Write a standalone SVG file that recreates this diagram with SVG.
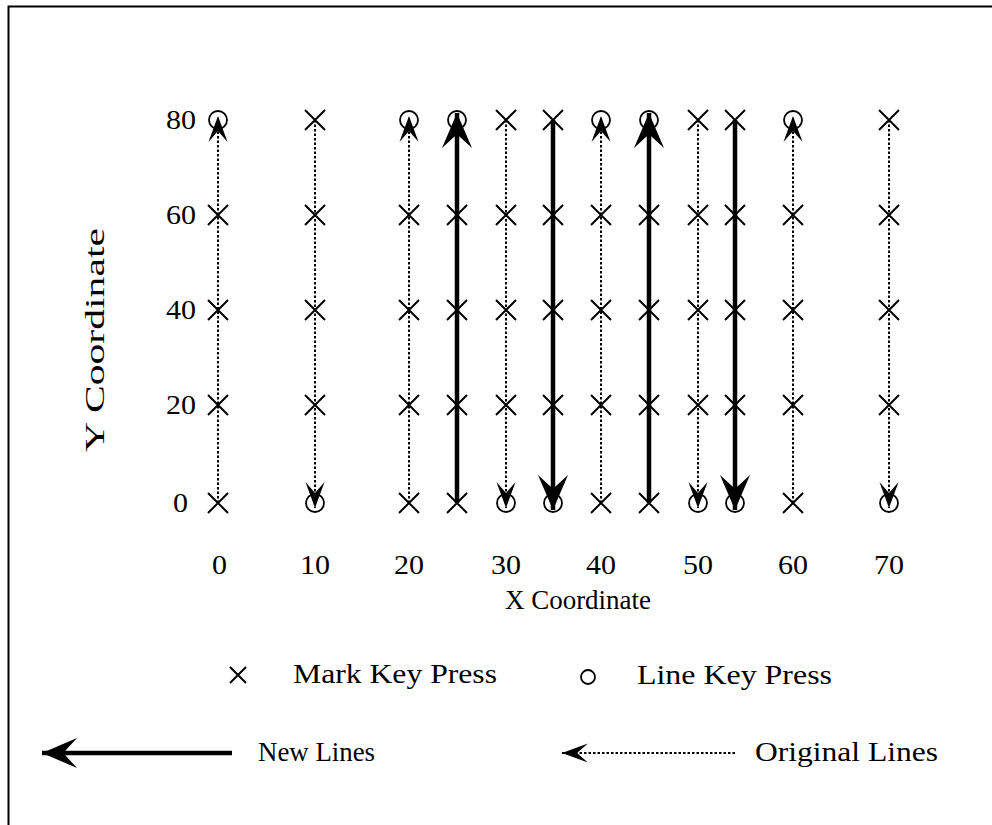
<svg xmlns="http://www.w3.org/2000/svg" width="992" height="825" viewBox="0 0 992 825">
<style>
text{font-family:"Liberation Serif","Times New Roman",serif;font-size:27px;fill:#000}
.xm{stroke:#000;stroke-width:2;fill:none}
.ci{stroke:#000;stroke-width:1.8;fill:none}
.thick{stroke:#000;stroke-width:4.5;fill:none}
.dot{stroke:#000;stroke-width:2;stroke-dasharray:2.5 2;fill:none}
</style>
<defs>
<marker id="ah" markerUnits="userSpaceOnUse" markerWidth="40" markerHeight="40" viewBox="-30 -15 32 30" refX="0" refY="0" orient="auto">
<path d="M0,0 L-28,-12 L-17,0 L-28,12 Z" fill="#000"/>
</marker>
<marker id="ad" markerUnits="userSpaceOnUse" markerWidth="30" markerHeight="30" viewBox="-20 -10 22 20" refX="0" refY="0" orient="auto">
<path d="M0,0 L-19,-7 L-11,0 L-19,7 Z" fill="#000"/>
</marker>
<path id="x" class="xm" d="M-10,-10 L10,10 M-10,10 L10,-10"/>
<circle id="c" class="ci" r="9"/>
</defs>
<rect x="8.5" y="6.5" width="990" height="830" fill="none" stroke="#000" stroke-width="2"/>
<g id="connectors">
<line class="dot" x1="218" y1="503" x2="218" y2="116" marker-end="url(#ad)"/>
<line class="dot" x1="315" y1="120" x2="315" y2="508" marker-end="url(#ad)"/>
<line class="dot" x1="409" y1="503" x2="409" y2="116" marker-end="url(#ad)"/>
<line class="thick" x1="457" y1="503" x2="457" y2="113" marker-end="url(#ah)"/>
<line class="dot" x1="506" y1="120" x2="506" y2="508" marker-end="url(#ad)"/>
<line class="thick" x1="553" y1="120" x2="553" y2="510" marker-end="url(#ah)"/>
<line class="dot" x1="601" y1="503" x2="601" y2="116" marker-end="url(#ad)"/>
<line class="thick" x1="649" y1="503" x2="649" y2="113" marker-end="url(#ah)"/>
<line class="dot" x1="698" y1="120" x2="698" y2="508" marker-end="url(#ad)"/>
<line class="thick" x1="735" y1="120" x2="735" y2="510" marker-end="url(#ah)"/>
<line class="dot" x1="793" y1="503" x2="793" y2="116" marker-end="url(#ad)"/>
<line class="dot" x1="889" y1="120" x2="889" y2="508" marker-end="url(#ad)"/>
<line class="thick" x1="232" y1="753" x2="42" y2="753" marker-end="url(#ah)"/>
<line class="dot" x1="735" y1="753" x2="562" y2="753" marker-end="url(#ad)"/>
</g>
<g id="marks">
<use href="#c" x="218" y="120"/><use href="#x" x="218" y="215"/><use href="#x" x="218" y="310"/><use href="#x" x="218" y="405"/><use href="#x" x="218" y="503"/>
<use href="#x" x="315" y="120"/><use href="#x" x="315" y="215"/><use href="#x" x="315" y="310"/><use href="#x" x="315" y="405"/><use href="#c" x="315" y="503"/>
<use href="#c" x="409" y="120"/><use href="#x" x="409" y="215"/><use href="#x" x="409" y="310"/><use href="#x" x="409" y="405"/><use href="#x" x="409" y="503"/>
<use href="#c" x="457" y="120"/><use href="#x" x="457" y="215"/><use href="#x" x="457" y="310"/><use href="#x" x="457" y="405"/><use href="#x" x="457" y="503"/>
<use href="#x" x="506" y="120"/><use href="#x" x="506" y="215"/><use href="#x" x="506" y="310"/><use href="#x" x="506" y="405"/><use href="#c" x="506" y="503"/>
<use href="#x" x="553" y="120"/><use href="#x" x="553" y="215"/><use href="#x" x="553" y="310"/><use href="#x" x="553" y="405"/><use href="#c" x="553" y="503"/>
<use href="#c" x="601" y="120"/><use href="#x" x="601" y="215"/><use href="#x" x="601" y="310"/><use href="#x" x="601" y="405"/><use href="#x" x="601" y="503"/>
<use href="#c" x="649" y="120"/><use href="#x" x="649" y="215"/><use href="#x" x="649" y="310"/><use href="#x" x="649" y="405"/><use href="#x" x="649" y="503"/>
<use href="#x" x="698" y="120"/><use href="#x" x="698" y="215"/><use href="#x" x="698" y="310"/><use href="#x" x="698" y="405"/><use href="#c" x="698" y="503"/>
<use href="#x" x="735" y="120"/><use href="#x" x="735" y="215"/><use href="#x" x="735" y="310"/><use href="#x" x="735" y="405"/><use href="#c" x="735" y="503"/>
<use href="#c" x="793" y="120"/><use href="#x" x="793" y="215"/><use href="#x" x="793" y="310"/><use href="#x" x="793" y="405"/><use href="#x" x="793" y="503"/>
<use href="#x" x="889" y="120"/><use href="#x" x="889" y="215"/><use href="#x" x="889" y="310"/><use href="#x" x="889" y="405"/><use href="#c" x="889" y="503"/>
</g>
<g id="ylabels">
<text x="166" y="129" textLength="30" lengthAdjust="spacingAndGlyphs">80</text>
<text x="166" y="224" textLength="30" lengthAdjust="spacingAndGlyphs">60</text>
<text x="166" y="319" textLength="30" lengthAdjust="spacingAndGlyphs">40</text>
<text x="166" y="414" textLength="30" lengthAdjust="spacingAndGlyphs">20</text>
<text x="173" y="512" textLength="15" lengthAdjust="spacingAndGlyphs">0</text>
</g>
<g id="xlabels">
<text x="212" y="574" textLength="15" lengthAdjust="spacingAndGlyphs">0</text>
<text x="300" y="574" textLength="30" lengthAdjust="spacingAndGlyphs">10</text>
<text x="394" y="574" textLength="30" lengthAdjust="spacingAndGlyphs">20</text>
<text x="491" y="574" textLength="30" lengthAdjust="spacingAndGlyphs">30</text>
<text x="586" y="574" textLength="30" lengthAdjust="spacingAndGlyphs">40</text>
<text x="683" y="574" textLength="30" lengthAdjust="spacingAndGlyphs">50</text>
<text x="778" y="574" textLength="30" lengthAdjust="spacingAndGlyphs">60</text>
<text x="874" y="574" textLength="30" lengthAdjust="spacingAndGlyphs">70</text>
</g>
<text id="xtitle" x="505" y="609" textLength="146" lengthAdjust="spacingAndGlyphs">X Coordinate</text>
<text id="ytitle" x="0" y="0" style="font-size:28px" textLength="224" lengthAdjust="spacingAndGlyphs" transform="translate(104,452) rotate(-90)">Y Coordinate</text>
<g id="legend">
<path class="xm" d="M230,667 L246,683 M230,683 L246,667"/>
<text x="293" y="683" textLength="204" lengthAdjust="spacingAndGlyphs">Mark Key Press</text>
<circle class="ci" cx="588" cy="677" r="7"/>
<text x="637" y="684" textLength="195" lengthAdjust="spacingAndGlyphs">Line Key Press</text>
<text x="258" y="761" textLength="117" lengthAdjust="spacingAndGlyphs">New Lines</text>
<text x="755" y="761" textLength="183" lengthAdjust="spacingAndGlyphs">Original Lines</text>
</g>
</svg>
